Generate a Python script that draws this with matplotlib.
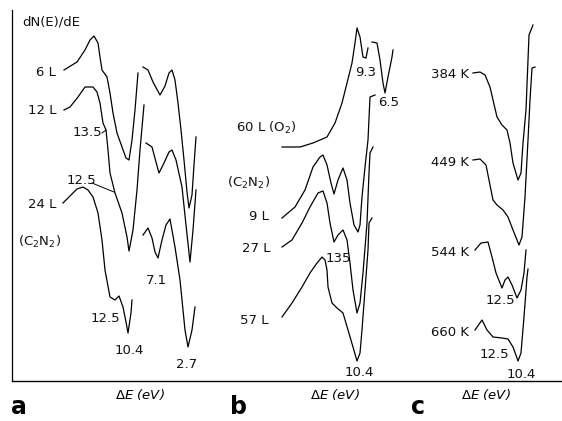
"""Auger-type dN(E)/dE traces, three panels (a: C2N2 dose, b: O2 vs C2N2, c: anneal temperature).
Traces digitised from the scanned figure, stored in figure pixel units (y grows downwards)."""

import matplotlib.pyplot as plt

plt.rcParams["font.family"] = ["DejaVu Sans"]
plt.rcParams["mathtext.default"] = "regular"

# ---- panel a -------------------------------------------------------------
a6_x = [64, 77, 85, 90, 94, 98, 100, 102, 107, 110, 113, 117, 122, 126, 129, 132, 135, 138]
a6_y = [70, 62, 50, 40, 36, 43, 57, 70, 77, 93, 113, 133, 147, 158, 160, 140, 110, 73]
a6r_x = [143, 148, 153, 160, 165, 169, 172, 175, 178, 181, 184, 187, 189, 192, 194, 196]
a6r_y = [67, 70, 82, 95, 86, 73, 70, 80, 103, 130, 160, 192, 208, 195, 165, 137]

a12_x = [64, 70, 78, 85, 93, 97, 100, 103, 106, 108, 110, 115, 122, 127, 129, 133, 137, 140, 144]
a12_y = [110, 107, 97, 87, 87, 92, 103, 123, 130, 150, 173, 193, 213, 237, 251, 230, 190, 150, 105]
a12r_x = [146, 152, 156, 159, 164, 169, 172, 176, 182, 186, 190, 193, 196]
a12r_y = [143, 147, 162, 173, 163, 152, 150, 160, 187, 225, 262, 230, 190]

a24_x = [63, 70, 77, 83, 88, 93, 98, 102, 105, 110, 115, 119, 123, 126, 128, 131, 132]
a24_y = [203, 196, 189, 187, 190, 197, 213, 240, 270, 297, 300, 296, 307, 322, 333, 313, 300]
a24r_x = [143, 148, 152, 155, 158, 162, 166, 170, 175, 180, 185, 188, 192, 195]
a24r_y = [235, 228, 238, 252, 258, 240, 225, 219, 247, 280, 330, 347, 330, 307]

# ---- panel b -------------------------------------------------------------
bO2_x = [282, 300, 313, 327, 335, 342, 347, 352, 355, 357, 360, 363, 366, 368]
bO2_y = [147, 147, 143, 137, 123, 103, 83, 63, 43, 28, 37, 57, 58, 48]
bO2r_x = [372, 377, 380, 383, 385, 388, 392, 393]
bO2r_y = [42, 43, 60, 83, 93, 77, 57, 50]

b9_x = [282, 295, 305, 313, 320, 323, 327, 331, 334, 338, 343, 347, 350, 354, 358,
        360, 362, 365, 368, 370, 375]
b9_y = [218, 207, 190, 167, 157, 155, 165, 183, 194, 180, 168, 180, 203, 225, 232,
        225, 197, 167, 140, 97, 95]

b27_x = [282, 292, 302, 310, 318, 323, 327, 330, 334, 338, 343, 347, 350, 353, 357,
         360, 363, 367, 369, 370, 373]
b27_y = [247, 240, 223, 207, 193, 191, 203, 223, 242, 235, 230, 240, 263, 290, 313,
         303, 273, 223, 173, 153, 147]

b57_x = [282, 292, 302, 310, 317, 322, 325, 327, 328, 332, 337, 343, 348, 353, 357,
         360, 362, 365, 368, 369, 372]
b57_y = [317, 303, 287, 273, 263, 257, 260, 270, 287, 303, 308, 313, 330, 347, 361,
         353, 330, 290, 250, 223, 218]

# ---- panel c -------------------------------------------------------------
c384_x = [473, 480, 485, 490, 493, 497, 502, 507, 510, 513, 518, 521, 523, 526, 528, 529, 533]
c384_y = [73, 72, 75, 87, 100, 117, 125, 130, 143, 163, 180, 173, 143, 110, 60, 35, 25]

c449_x = [473, 480, 486, 489, 493, 497, 503, 508, 513, 519, 522, 525, 528, 530, 532, 535]
c449_y = [160, 159, 165, 180, 200, 205, 210, 217, 230, 245, 237, 197, 140, 100, 68, 67]

c544_x = [475, 481, 488, 492, 496, 502, 505, 508, 512, 517, 521, 524, 526]
c544_y = [250, 243, 242, 257, 273, 288, 280, 277, 285, 298, 290, 273, 250]

c660_x = [475, 482, 487, 493, 502, 508, 513, 517, 518, 521, 524, 527, 528]
c660_y = [330, 320, 330, 337, 338, 339, 347, 358, 361, 353, 317, 277, 269]

traces = [
    (a6_x, a6_y), (a6r_x, a6r_y), (a12_x, a12_y), (a12r_x, a12r_y),
    (a24_x, a24_y), (a24r_x, a24r_y),
    (bO2_x, bO2_y), (bO2r_x, bO2r_y), (b9_x, b9_y), (b27_x, b27_y), (b57_x, b57_y),
    (c384_x, c384_y), (c449_x, c449_y), (c544_x, c544_y), (c660_x, c660_y),
]

# text labels: (x, y, text, ha)
labels = [
    (22, 22, "dN(E)/dE", "left"),
    (56, 73, "6 L", "right"), (56, 110, "12 L", "right"), (56, 205, "24 L", "right"),
    (87, 133, "13.5", "center"), (81, 180, "12.5", "center"),
    (40, 242, "(C$_2$N$_2$)", "center"),
    (105, 318, "12.5", "center"), (129, 350, "10.4", "center"),
    (156, 280, "7.1", "center"), (187, 365, "2.7", "center"),
    (266, 128, "60 L (O$_2$)", "center"), (249, 183, "(C$_2$N$_2$)", "center"),
    (269, 217, "9 L", "right"), (271, 248, "27 L", "right"), (269, 320, "57 L", "right"),
    (366, 72, "9.3", "center"), (389, 102, "6.5", "center"),
    (338, 258, "135", "center"), (359, 373, "10.4", "center"),
    (469, 75, "384 K", "right"), (469, 163, "449 K", "right"),
    (469, 252, "544 K", "right"), (469, 332, "660 K", "right"),
    (500, 301, "12.5", "center"), (494, 354, "12.5", "center"), (521, 375, "10.4", "center"),
]
leaders = [((102, 133), (106, 130)), ((92, 183), (114, 192))]

fig = plt.figure(figsize=(5.62, 4.21), dpi=100)
ax = fig.add_axes([0, 0, 1, 1])
ax.set_xlim(0, 562)
ax.set_ylim(421, 0)
ax.axis("off")

for xs, ys in traces:
    ax.plot(xs, ys, color="black", lw=0.9)
for (x0, y0), (x1, y1) in leaders:
    ax.plot([x0, x1], [y0, y1], color="black", lw=0.7)

# frame: left axis and long bottom base line
ax.plot([12, 12], [10, 381], color="black", lw=0.9)
ax.plot([12, 562], [381, 381], color="black", lw=1.0)

for x, y, s, ha in labels:
    ax.text(x, y, s, ha=ha, va="center", fontsize=9.5, color="#111111")

for x in (140, 335, 486):
    ax.text(x, 395, r"$\mathit{\Delta}$E (eV)", ha="center", va="center",
            fontsize=9.5, style="italic")
for x, s in ((19, "a"), (238, "b"), (418, "c")):
    ax.text(x, 407, s, ha="center", va="center", fontsize=17, fontweight="bold")

fig.savefig("out.png", dpi=100)
